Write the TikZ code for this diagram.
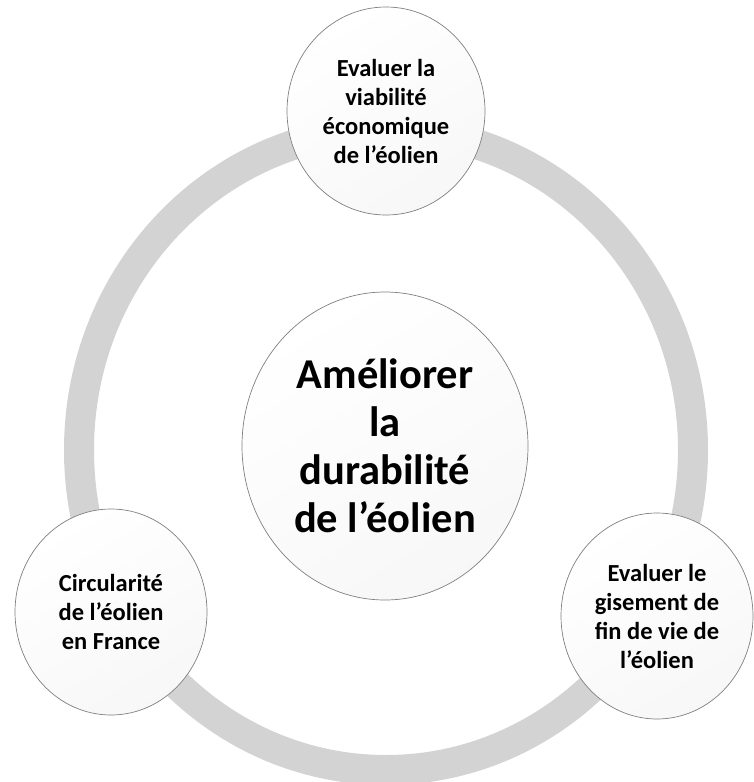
\documentclass[tikz,border=0pt]{standalone}
\usepackage{fontspec}
\setmainfont{Carlito}
\usetikzlibrary{shapes.geometric}
\definecolor{ringgray}{HTML}{D3D3D3}
\definecolor{edgegray}{HTML}{808080}
\tikzset{
  bubble/.style={draw=edgegray, line width=0.7pt, ellipse, inner sep=0pt,
    top color=white, bottom color=black!3, shading angle=30,
    align=center, text=black},
  smalltext/.style={font=\bfseries\fontsize{24.5}{29}\selectfont},
  bigtext/.style={font=\bfseries\fontsize{42.5}{48}\selectfont}
}
\begin{document}
\begin{tikzpicture}[x=1pt,y=-1pt]
\useasboundingbox[fill=white] (0,0) rectangle (754,782);
\coordinate (ringc) at (386,450);
\draw[ringgray, line width=30pt] (ringc) ellipse [x radius=307, y radius=320];
\node[bubble, bigtext, minimum width=286pt, minimum height=308pt] (centre) at (385,446)
  {Améliorer\\la\\durabilité\\de l’éolien};
\node[bubble, smalltext, minimum width=198pt, minimum height=208pt] (top) at (386,111)
  {Evaluer la\\viabilité\\économique\\de l’éolien};
\node[bubble, smalltext, minimum width=192pt, minimum height=206pt] (left) at (111,612)
  {Circularité\\de l’éolien\\en France};
\node[bubble, smalltext, minimum width=192pt, minimum height=206pt] (right) at (657,616)
  {Evaluer le\\gisement de\\fin de vie de\\l’éolien};
\end{tikzpicture}
\end{document}
